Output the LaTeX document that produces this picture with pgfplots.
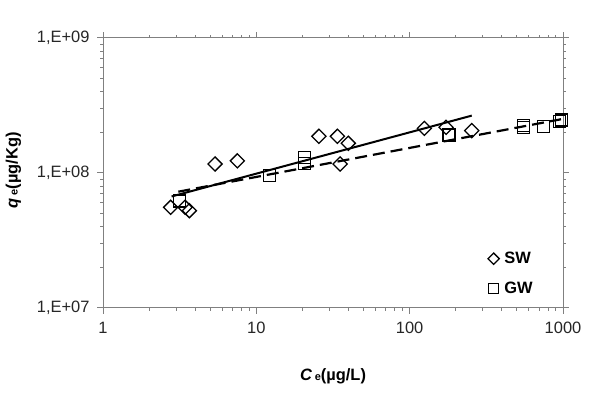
\documentclass[border=0pt]{standalone}
\usepackage{pgfplots}
\pgfplotsset{compat=1.18}
\usepackage{fontspec}
\setmainfont{Liberation Sans}
\definecolor{axgray}{RGB}{128,128,128}
\begin{document}
\begin{tikzpicture}[x=1bp,y=1bp]
\path[use as bounding box] (0,0) rectangle (600,393);
\begin{axis}[
  at={(103bp,85bp)}, anchor=south west,
  width=460bp, height=270bp, scale only axis,
  xmode=log, ymode=log,
  xmin=1, xmax=1000, ymin=1e7, ymax=1e9,
  axis line style={axgray, line width=1bp},
  xtick={1,10,100,1000}, xticklabels={1,10,100,1000},
  ytick={1e7,1e8,1e9}, yticklabels={{1,E+07},{1,E+08},{1,E+09}},
  minor tick num=0, minor xtick={}, minor ytick={},
  tick align=outside, major tick length=6bp,
  tick style={axgray, line width=1bp},
  tick label style={font=\fontsize{16.5}{19}\selectfont, text=black!85},
  xticklabel style={yshift=-5bp},
  yticklabel style={xshift=-4bp},
  xlabel={\textbf{\textit{C}\,{\fontsize{11}{11}\selectfont e}(µg/L)}},
  ylabel={\textbf{\textit{q}\,{\fontsize{11}{11}\selectfont e}(µg/Kg)}},
  xlabel style={at={(axis description cs:0.5,-0.252)}, anchor=center, font=\fontsize{16.5}{19}\selectfont},
  ylabel style={at={(axis description cs:-0.195,0.51)}, anchor=center, rotate=0, font=\fontsize{16.5}{19}\selectfont},
  legend style={at={(axis description cs:0.83,0.222)}, anchor=north west, draw=none, fill=none,
    font=\bfseries\fontsize{16.5}{19}\selectfont, row sep=13bp, nodes={inner xsep=5bp}},
  legend cell align=left,
  clip=false,
]
% SW data
\addplot[only marks, mark=square, mark size=5bp, mark options={rotate=45, line width=1.3bp, black, fill=white},
  legend image post style={mark size=4bp}] coordinates {
(2.76,5.57e7) (3.43,5.57e7) (3.66,5.26e7) (5.38,1.166e8) (7.52,1.23e8)
(25.6,1.87e8) (33.8,1.87e8) (39.8,1.66e8) (35.2,1.166e8)
(124.7,2.14e8) (172.7,2.18e8) (254,2.06e8)
};
\addlegendentry{SW}
% GW data
\addplot[only marks, mark=square, mark size=6bp, mark options={line width=1.2bp, black},
  legend image post style={mark size=5bp}] coordinates {
(3.15,6.2e7) (12.2,9.55e7) (20.5,1.31e8) (20.5,1.17e8)
(180.7,1.91e8) (552,2.24e8) (552,2.16e8) (745,2.2e8) (972,2.47e8) (950,2.4e8)
};
\addlegendentry{GW}
% fits
\addplot[forget plot, black, line width=2bp] coordinates {(2.8,6.7e7) (254,2.66e8)};
\addplot[forget plot, black, line width=2.2bp, dash pattern=on 12bp off 6bp] coordinates {(3.1,7.27e7) (970,2.5e8)};
\end{axis}
\end{tikzpicture}
\end{document}
